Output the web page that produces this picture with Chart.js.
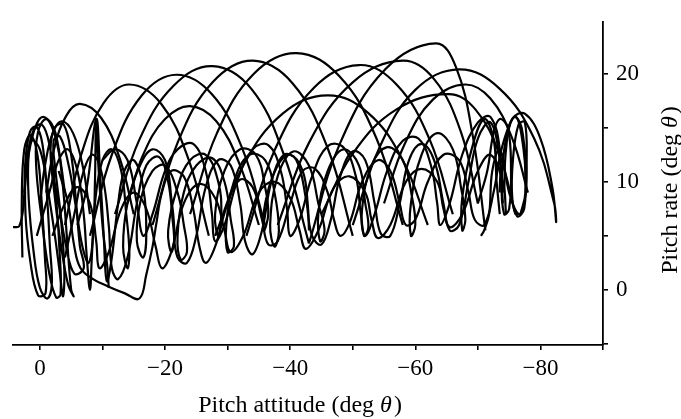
<!DOCTYPE html>
<html>
<head>
<meta charset="utf-8">
<script src="https://cdn.jsdelivr.net/npm/chart.js@4.4.1/dist/chart.umd.min.js"></script>
<style>
  body { margin: 0; background: #fff; }
  canvas { display: block; }
</style>
</head>
<body>
<canvas id="myChart" width="681" height="419"></canvas>
<script>
// axis tick labels
const xTickLabels = [0, -20, -40, -60, -80];
const yTickLabels = [0, 10, 20];

// pitch attitude / pitch rate pairs
const leftLoops = [[4.3,5.8],[3.3,5.9],[2.6,8],[2.3,12],[1.6,14.6],[0.6,15.1],[-0.4,13.5],[-1.1,9],[-1.6,4],[-1.9,0.5],[-1.2,-0.8],[0,0.2],[1,3.5],[1.8,8.5],[1.8,12.5],[1,14.8],[-0.3,15.3],[-1.5,13.5],[-2.5,9],[-3.1,4],[-3.3,-0.4],[-2.6,-0.7],[-1.5,1.5],[-0.3,6.5],[0.6,11.5],[0.3,14.6],[-1,15.8],[-2.5,14.5],[-3.6,10],[-4.3,5],[-5,0],[-5.4,-0.6],[-4.5,0.5],[-3.4,4],[-2.3,9],[-1.7,13],[-2.4,15],[-3.8,15.3],[-5,12.5],[-5.8,8],[-6.4,4],[-7,2],[-5.5,1.5],[-4.2,4],[-3,8],[-2,11]];
const leftLoops2 = [[2.8,3],[2.9,8],[2.5,13],[1.5,14.3],[0.4,12.5],[-0.3,8],[-0.8,3],[-0.9,-0.3],[0.3,-0.5],[1.5,2.5],[2.3,7],[2.2,11.5],[1.3,13.8],[0,13],[-1.2,9.5],[-2.4,5],[-3.2,1.5],[-3.7,-0.6],[-3.9,2],[-3.3,7],[-2.5,11],[-2.2,13.8],[-3.2,14.2],[-4.6,11.5],[-5.8,7.5],[-6.8,4],[-7.8,2.5],[-8.5,5],[-8.8,10],[-9,15.8],[-9.3,12],[-10,6],[-10.8,2],[-11,0.2]];

const arc1 = [[2.5,9],[1.8,12.5],[0.7,15.1],[-0.5,16],[-1.9,15.1],[-3.1,12.5],[-4,9]];
const arc2 = [[0,8],[-0.9,11.8],[-2.1,14.6],[-3.5,15.6],[-5.3,14.5],[-6.9,11.3],[-8,7]];
const arc3 = [[-1,9],[-2.3,13.1],[-4.2,16.1],[-6.4,17.2],[-9.8,15.9],[-12.8,12.1],[-15,7]];
const arc4 = [[-4,6],[-6.6,12.5],[-10.2,17.3],[-14.3,19],[-19.4,17.2],[-23.8,12],[-27,5]];
const arc5 = [[-8,5],[-11.5,12.5],[-16.3,18],[-21.8,19.9],[-27.5,18.1],[-32.4,13],[-36,6]];
const arc6 = [[-12,7],[-15.9,13.9],[-21.4,18.9],[-27.6,20.7],[-33.8,18.6],[-39,12.5],[-43,4.3]];
const arc7 = [[-18,6],[-22,13.6],[-27.6,19.2],[-34,21.2],[-40.4,19.1],[-46,13.1],[-50,5]];
const arc8 = [[-24,7],[-28.3,14.5],[-34.2,20],[-41,21.9],[-47.8,19.8],[-53.8,14],[-58,6]];
const arc9 = [[-33,5],[-37.5,12.9],[-43.8,18.7],[-51,20.8],[-57,19],[-62.3,13.9],[-66,7]];
const arc10 = [[-43,4.3],[-48,13.6],[-55.2,20.4],[-63.3,22.8],[-66.5,20.6],[-69.2,14.2],[-71.2,5.5]];
const arc11 = [[-50,6],[-54.3,13.2],[-60,18.5],[-67,20.4],[-73.5,18.6],[-79,14],[-82.2,8],[-82.5,6.3],[-81.9,9.5],[-80,14],[-77.5,16.3],[-75.5,15.8],[-74.5,13],[-74.2,9]];
const arc12 = [[-38,6],[-43,13.6],[-50,19.2],[-58,21.2],[-63,19.5],[-67.3,14.6],[-70,8]];
const arc13 = [[-28,5],[-32.5,11.5],[-38.8,16.3],[-46,18],[-52.4,16.4],[-58,12],[-62,6]];
const arc14 = [[-45,7],[-50,12.6],[-57,16.7],[-65.3,18.1],[-69.6,16.7],[-73.4,12.6],[-76,7]];
const arc15 = [[-14,8],[-16.5,12.5],[-20,15.8],[-24,17],[-28.2,15.6],[-32,11.5],[-35,6]];
const arc16 = [[-55,8],[-58.3,13.5],[-62.8,17.6],[-68,19],[-72,17.7],[-75.5,14],[-78,9]];

const wave1 = [[-4,3],[-5.5,7],[-7,11],[-8.5,12.5],[-10,10.5],[-11,6],[-11.5,2],[-12.5,1],[-14,3],[-15.5,8],[-17,11.5],[-19,12.3],[-20.5,10],[-21.3,6],[-22,3],[-23.5,2.5],[-25,5],[-26.5,9.5],[-28.5,12],[-30.5,11.5],[-32,8],[-32.8,4.5],[-34,3.3],[-35.5,5.5],[-37,10],[-39,12.5],[-41,12],[-42.5,8.5],[-43.5,5],[-45,4.2],[-46.5,6.5],[-48,10.5],[-50,12.8],[-52,12],[-53.5,8],[-54.5,5.2],[-56,5],[-57.5,8],[-59,12],[-61,13.5],[-63,12],[-64.5,8],[-65.5,5.5],[-67,6],[-68.5,10],[-70,14],[-72,15.5],[-73.5,12],[-74,8]];
const wave2 = [[-6,6],[-7.5,9.5],[-9,15.8],[-9.6,11],[-10.2,5],[-10.7,0.8],[-11.5,3],[-12.5,8],[-13.5,11],[-15,12],[-16.5,9.5],[-17,5],[-16.5,3],[-15.5,4.5],[-16,8],[-18,11],[-20,11.5],[-22,9],[-23,6],[-23.5,3.5],[-22.5,2.8],[-22,5],[-23,9],[-25,11.5],[-27.5,12.2],[-29.5,10],[-30.5,6.5],[-31,4],[-30,3.5],[-29.8,6],[-31,10],[-33.5,12.5],[-36,12],[-37.5,9],[-38.2,5.5],[-37.5,4],[-36.8,6],[-38,10.5],[-40.5,12.8],[-43,11.5],[-44.5,8],[-45.5,5.5],[-44.8,4.5],[-44.5,7],[-46,11],[-48.5,13],[-51,11.5],[-52,8],[-52.5,5.8],[-51.8,5],[-51.5,7.5],[-53,11.5],[-55.5,13.2],[-58,12],[-59.5,8.5],[-60,6],[-59.3,5],[-59.3,8],[-61,12.5],[-63.5,14.5],[-66,13],[-67.3,9.5],[-68,6.5],[-67.5,5.5],[-67.5,8.5],[-69,13],[-71,15.8],[-72.5,14],[-73,10],[-73.5,7]];
const wave3 = [[-2,5],[-4,8],[-6,9.5],[-8,8],[-9,4.5],[-9.5,2],[-11,3.5],[-13,7.5],[-15,9],[-17,7.5],[-18.5,4],[-19.5,2],[-21,3.5],[-23,8],[-25.5,9.8],[-28,8.5],[-29.5,5.5],[-30.5,3.5],[-32.5,5],[-35,9],[-37.5,10],[-40,8.5],[-41.5,5.5],[-42.5,3.8],[-44.5,5.5],[-47,9.5],[-49.5,10.5],[-52,9],[-53,6.5],[-54,4.8],[-56,6],[-58.5,10],[-61,11.2],[-63.5,10],[-64.5,7.5],[-65.5,5.8],[-67.5,7],[-70,11],[-72,12.5],[-74,10],[-74.5,7]];
const wave4 = [[-10,12],[-12,13],[-14,12],[-15.5,8],[-16.5,5],[-18,7],[-20,11],[-22,13],[-24.5,13.5],[-26.5,11],[-27.5,7],[-28,4.5],[-29.5,6],[-31.5,10],[-34,13],[-36.5,13.4],[-38.5,11],[-39.5,7.5],[-40,5],[-41.5,6.5],[-43.5,10.5],[-46,13.3],[-48.5,13.2],[-50.5,10.5],[-51.3,7],[-52,5],[-53.5,7],[-55.5,11],[-58,13.8],[-60.5,14],[-62.5,11.5],[-63.5,8],[-64,6],[-65.5,8],[-67.5,12.5],[-70,15.5],[-72,16],[-73.5,13],[-73.5,9]];
const wave5 = [[-3,11],[-4.5,8],[-5.5,4],[-6.5,2],[-8.5,1],[-11,0.3],[-13.5,-0.3],[-15.9,-0.8],[-17,1.4],[-18,4],[-18.6,6.1],[-19.5,9],[-21,11],[-23,10.5],[-24.5,7.5],[-25.5,4],[-26.5,2.5],[-28,4],[-30,8],[-32,10.2],[-34,9.5],[-35.5,6.5],[-36.5,4.2],[-38,4.5],[-40,8],[-42,11],[-44,11.2],[-46,9],[-47,6.5],[-48,5],[-49.5,6.2],[-51.5,10],[-54,12],[-56,11],[-57.5,8],[-58.5,6],[-60,6.5],[-62,10],[-64.5,12.5],[-67,12],[-68.5,9],[-69.5,6.5],[-71,6],[-72.5,9],[-74,13.5],[-76,16],[-77.3,13],[-77.6,9],[-76.8,7]];
const wave6 = [[0.5,5],[-1.5,9],[-3,12],[-4.5,13],[-6,11],[-7,7],[-7.5,3],[-8,0],[-8.3,3],[-8.8,8],[-10,12],[-11.5,13],[-13,11],[-13.8,7],[-14.3,3.5],[-14,2],[-13.3,4],[-14,8],[-16,11.5],[-18,13],[-20,12],[-21,8.5],[-21.5,5],[-21,3.5],[-20.5,5.5],[-22,9.5],[-24,12],[-26.5,12.5],[-28.5,10],[-29,7],[-28.5,5],[-28,7],[-29.5,11],[-32,13],[-34.5,12.5],[-36,9.5],[-36.5,7],[-35.8,5.5],[-36,8],[-38,11.5],[-40,12.5],[-42,11],[-42.8,8],[-43,5.5]];

const rightLoops = [[-70,8],[-71.5,11],[-72.5,14.5],[-73.5,15.8],[-74.8,15],[-75.3,11],[-75,7.5],[-74.2,7],[-73.8,10],[-74.5,14],[-75.8,16],[-77,15],[-77.6,11],[-77.4,7.5],[-76.3,6.8],[-75.5,8.5],[-75.6,12],[-76.5,15.3],[-77.5,15.5],[-77.8,12],[-77.5,8],[-76.5,7],[-75,9],[-73.5,13],[-72.3,11],[-71.8,7],[-71,5.5],[-70.5,5]];

const allTraces = [leftLoops, leftLoops2, arc1, arc2, arc3, arc4, arc5, arc6, arc7, arc8,
    arc9, arc10, arc11, arc12, arc13, arc14, arc15, arc16,
    wave1, wave2, wave3, wave4, wave5, wave6, rightLoops];

function toPoints(arr) {
    let pts = [];
    for (let i = 0; i < arr.length; i++) {
        pts.push({x: arr[i][0], y: arr[i][1]});
    }
    return pts;
}

const serif = '"Liberation Serif", "Times New Roman", serif';

// draws the two axis titles, the theta in italics
const titlePlugin = {
    id: 'titles',
    afterDraw(chart) {
        const ctx = chart.ctx;
        const parts = [['Pitch attitude (deg ', false], ['\u03B8', true], [')', false]];
        const partsY = [['Pitch rate (deg ', false], ['\u03B8', true], [')', false]];

        function drawParts(p, cx, cy) {
            let total = 0;
            for (let i = 0; i < p.length; i++) {
                ctx.font = (p[i][1] ? 'italic ' : '') + '24px ' + serif;
                total += ctx.measureText(p[i][0]).width + (p[i][1] ? 2 : 0);
            }
            let x = cx - total / 2;
            for (let i = 0; i < p.length; i++) {
                ctx.font = (p[i][1] ? 'italic ' : '') + '24px ' + serif;
                ctx.fillText(p[i][0], x, cy);
                x += ctx.measureText(p[i][0]).width + (p[i][1] ? 2 : 0);
            }
        }

        ctx.save();
        ctx.fillStyle = '#000';
        ctx.textBaseline = 'alphabetic';
        drawParts(parts, 300, 412);
        ctx.translate(677, 190);
        ctx.rotate(-Math.PI / 2);
        drawParts(partsY, 0, 0);
        ctx.restore();
    }
};

const datasets = [];
for (let i = 0; i < allTraces.length; i++) {
    datasets.push({
        data: toPoints(allTraces[i]),
        showLine: true,
        borderColor: '#000',
        borderWidth: 2.2,
        pointRadius: 0,
        hoverRadius: 0,
        tension: 0.4,
        fill: false
    });
}

new Chart('myChart', {
    type: 'scatter',
    data: {datasets: datasets},
    plugins: [titlePlugin],
    options: {
        responsive: false,
        animation: false,
        layout: {padding: {left: 13, top: 10, right: 0, bottom: 0}},
        plugins: {legend: {display: false}, tooltip: {enabled: false}},
        scales: {
            x: {
                type: 'linear',
                reverse: true,
                min: -90,
                max: 4.3,
                afterFit: function (scale) { scale.height = 74; },
                border: {display: true, color: '#000', width: 1.8},
                grid: {drawOnChartArea: false, drawTicks: true, tickLength: 5, color: '#000', lineWidth: 1.6},
                ticks: {
                    stepSize: 10,
                    includeBounds: false,
                    maxRotation: 0,
                    autoSkip: false,
                    padding: 5,
                    color: '#000',
                    font: {family: serif, size: 23},
                    callback: function (value) {
                        if (xTickLabels.indexOf(value) < 0) return '';
                        return value === 0 ? '0' : '\u2212' + Math.abs(value);
                    }
                }
            },
            y: {
                type: 'linear',
                position: 'right',
                min: -5.1,
                max: 24.8,
                afterFit: function (scale) { scale.width = 78; },
                border: {display: true, color: '#000', width: 1.8},
                grid: {drawOnChartArea: false, drawTicks: true, tickLength: 5, color: '#000', lineWidth: 1.6},
                ticks: {
                    stepSize: 5,
                    includeBounds: false,
                    autoSkip: false,
                    padding: 8,
                    color: '#000',
                    font: {family: serif, size: 23},
                    callback: function (value) {
                        return yTickLabels.indexOf(value) < 0 ? '' : String(value);
                    }
                }
            }
        }
    }
});
</script>
</body>
</html>
